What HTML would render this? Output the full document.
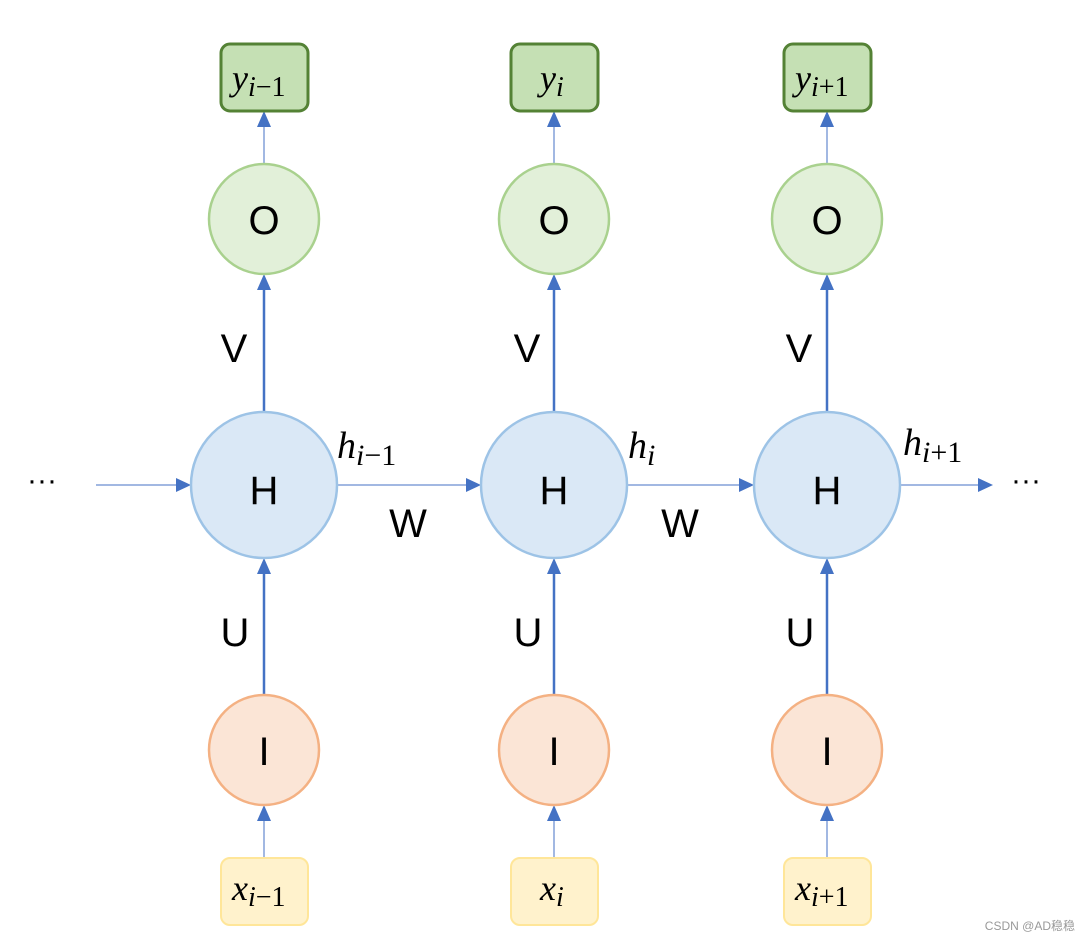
<!DOCTYPE html>
<html><head><style>body{margin:0;background:#fff}</style></head><body>
<svg width="1090" height="942" xmlns="http://www.w3.org/2000/svg" font-family="Liberation Sans, DejaVu Sans, sans-serif">
<g fill="none" stroke="#4472c4">
<line x1="264" y1="164" x2="264" y2="124" stroke-width="1"/><line x1="554" y1="164" x2="554" y2="124" stroke-width="1"/><line x1="827" y1="164" x2="827" y2="124" stroke-width="1"/>
<line x1="264" y1="858" x2="264" y2="818" stroke-width="1"/><line x1="554" y1="858" x2="554" y2="818" stroke-width="1"/><line x1="827" y1="858" x2="827" y2="818" stroke-width="1"/>
<line x1="264" y1="412" x2="264" y2="288" stroke-width="2.5"/><line x1="554" y1="412" x2="554" y2="288" stroke-width="2.5"/><line x1="827" y1="412" x2="827" y2="288" stroke-width="2.5"/>
<line x1="264" y1="695" x2="264" y2="572" stroke-width="2.5"/><line x1="554" y1="695" x2="554" y2="572" stroke-width="2.5"/><line x1="827" y1="695" x2="827" y2="572" stroke-width="2.5"/>
<line x1="96" y1="485" x2="180" y2="485" stroke-width="1"/><line x1="337" y1="485" x2="470" y2="485" stroke-width="1"/><line x1="627" y1="485" x2="743" y2="485" stroke-width="1"/><line x1="900" y1="485" x2="982" y2="485" stroke-width="1"/>
</g>
<g fill="#4472c4">
<path d="M257,127 L271,127 L264,111Z"/><path d="M547,127 L561,127 L554,111Z"/><path d="M820,127 L834,127 L827,111Z"/>
<path d="M257,821 L271,821 L264,805Z"/><path d="M547,821 L561,821 L554,805Z"/><path d="M820,821 L834,821 L827,805Z"/>
<path d="M257,290 L271,290 L264,274Z"/><path d="M547,290 L561,290 L554,274Z"/><path d="M820,290 L834,290 L827,274Z"/>
<path d="M257,574 L271,574 L264,558Z"/><path d="M547,574 L561,574 L554,558Z"/><path d="M820,574 L834,574 L827,558Z"/>
<path d="M176,478 L176,492 L191,485Z"/><path d="M466,478 L466,492 L481,485Z"/><path d="M739,478 L739,492 L754,485Z"/><path d="M978,478 L978,492 L993,485Z"/>
</g>
<g stroke-width="3">
<rect x="221" y="44" width="87" height="67" rx="9" fill="#c5e0b4" stroke="#548235"/>
<rect x="511" y="44" width="87" height="67" rx="9" fill="#c5e0b4" stroke="#548235"/>
<rect x="784" y="44" width="87" height="67" rx="9" fill="#c5e0b4" stroke="#548235"/>
<rect x="221" y="858" width="87" height="67" rx="9" fill="#fff2cc" stroke="#ffe699" stroke-width="2"/>
<rect x="511" y="858" width="87" height="67" rx="9" fill="#fff2cc" stroke="#ffe699" stroke-width="2"/>
<rect x="784" y="858" width="87" height="67" rx="9" fill="#fff2cc" stroke="#ffe699" stroke-width="2"/>
</g>
<g stroke-width="2.5">
<circle cx="264" cy="219" r="55" fill="#e2f0d9" stroke="#a9d18e"/><circle cx="554" cy="219" r="55" fill="#e2f0d9" stroke="#a9d18e"/><circle cx="827" cy="219" r="55" fill="#e2f0d9" stroke="#a9d18e"/>
<circle cx="264" cy="485" r="73" fill="#dae8f6" stroke="#9dc3e6"/><circle cx="554" cy="485" r="73" fill="#dae8f6" stroke="#9dc3e6"/><circle cx="827" cy="485" r="73" fill="#dae8f6" stroke="#9dc3e6"/>
<circle cx="264" cy="750" r="55" fill="#fbe5d6" stroke="#f4b183"/><circle cx="554" cy="750" r="55" fill="#fbe5d6" stroke="#f4b183"/><circle cx="827" cy="750" r="55" fill="#fbe5d6" stroke="#f4b183"/>
</g>
<g font-size="40" text-anchor="middle" fill="#000">
<text x="264" y="234">O</text><text x="554" y="234">O</text><text x="827" y="234">O</text>
<text x="264" y="504">H</text><text x="554" y="504">H</text><text x="827" y="504">H</text>
<text x="264" y="765">I</text><text x="554" y="765">I</text><text x="827" y="765">I</text>
<text x="234" y="362">V</text><text x="527" y="362">V</text><text x="799" y="362">V</text>
<text x="235" y="646">U</text><text x="528" y="646">U</text><text x="800" y="646">U</text>
<text x="408" y="537">W</text><text x="680" y="537">W</text>
<text x="42" y="490" font-size="30">···</text><text x="1026" y="490" font-size="30">···</text>
</g>
<g font-family="Liberation Serif, serif" font-style="italic" fill="#000">
<text x="232" y="90" font-size="36">y<tspan font-size="28" dy="6">i</tspan><tspan font-style="normal" font-size="28">−1</tspan></text>
<text x="540" y="90" font-size="36">y<tspan font-size="28" dy="6">i</tspan></text>
<text x="795" y="90" font-size="36">y<tspan font-size="28" dy="6">i</tspan><tspan font-style="normal" font-size="28">+1</tspan></text>
<text x="232" y="900" font-size="36">x<tspan font-size="28" dy="6">i</tspan><tspan font-style="normal" font-size="28">−1</tspan></text>
<text x="540" y="900" font-size="36">x<tspan font-size="28" dy="6">i</tspan></text>
<text x="795" y="900" font-size="36">x<tspan font-size="28" dy="6">i</tspan><tspan font-style="normal" font-size="28">+1</tspan></text>
<text x="337" y="458" font-size="38">h<tspan font-size="30" dy="7">i</tspan><tspan font-style="normal" font-size="30">−1</tspan></text>
<text x="628" y="458" font-size="38">h<tspan font-size="30" dy="7">i</tspan></text>
<text x="903" y="455" font-size="38">h<tspan font-size="30" dy="7">i</tspan><tspan font-style="normal" font-size="30">+1</tspan></text>
</g>
<text x="1075" y="930" font-size="12" fill="#999" text-anchor="end" font-family="Liberation Sans, Noto Sans CJK SC, sans-serif">CSDN @AD稳稳</text>
</svg>
</body></html>
